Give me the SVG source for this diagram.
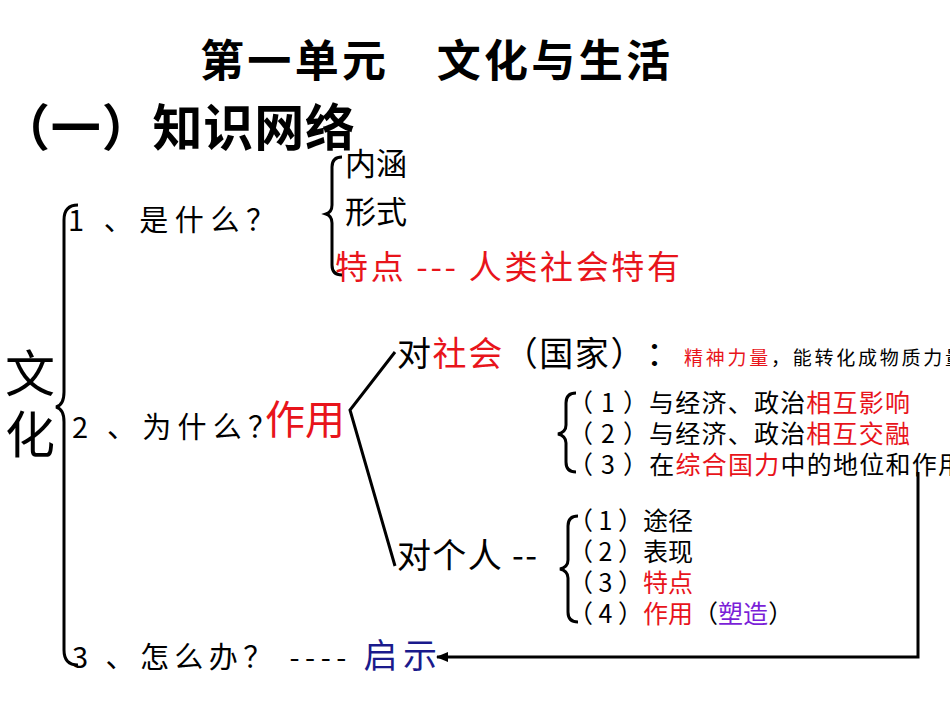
<svg xmlns="http://www.w3.org/2000/svg" width="950" height="713" viewBox="0 0 950 713">
<style>
text{font-family:"Noto Sans CJK SC","Liberation Sans",sans-serif;fill:#000;text-spacing-trim:space-all;white-space:pre}
.r{fill:#e8141b}.b{fill:#1a1a8c}.p{fill:#7b1fd8}
.br{fill:none;stroke:#000;stroke-width:3}
</style>
<defs><marker id="ah" markerWidth="12" markerHeight="10" refX="11" refY="5" orient="auto" markerUnits="userSpaceOnUse"><path d="M0,0 L12,5 L0,10 Z" fill="#000"/></marker></defs>
<rect width="950" height="713" fill="#fff"/>
<g id="title"><text x="200" y="77" font-size="44" font-weight="bold" textLength="470" lengthAdjust="spacing">第一单元　文化与生活</text>
<text x="0" y="146" font-size="50" font-weight="bold" textLength="355" lengthAdjust="spacing">（一）知识网络</text></g>
<g id="root"><text x="5" y="392" font-size="50">文</text><text x="5" y="453" font-size="50">化</text>
<path class="br" d="M78 205 Q64 205 64 220 V392 Q64 405 56 407 Q64 409 64 422 V650 Q64 665 78 665"/></g>
<g id="q1"><text x="68" y="231" font-size="29" textLength="207" lengthAdjust="spacing">1 、是什么？</text>
<path class="br" d="M342 157 Q332 157 332 167 V205 Q332 212 326 214 Q332 216 332 223 V265 Q332 275 342 275"/>
<text x="345" y="175" font-size="31">内涵</text><text x="345" y="223" font-size="31">形式</text>
<text x="335" y="279" font-size="33" class="r" textLength="345" lengthAdjust="spacing">特点 --- 人类社会特有</text></g>
<g id="q2"><text x="72" y="438" font-size="29" textLength="205" lengthAdjust="spacing">2 、为什么？</text><text x="265" y="434" font-size="40" class="r">作用</text></g>
<g id="society"><text x="397" y="366" font-size="34" textLength="283" lengthAdjust="spacing">对<tspan class="r">社会</tspan>（国家）：</text>
<text x="684" y="365" font-size="19" textLength="280" lengthAdjust="spacing"><tspan class="r">精神力量</tspan>，能转化成物质力量</text>
<path class="br" d="M576 393 Q566 393 566 403 V425 Q566 432 558 434 Q566 436 566 443 V462 Q566 472 576 472"/>
<text x="568" y="412" font-size="25" textLength="342" lengthAdjust="spacing">（ 1 ）与经济、政治<tspan class="r">相互影响</tspan></text>
<text x="568" y="443" font-size="25" textLength="342" lengthAdjust="spacing">（ 2 ）与经济、政治<tspan class="r">相互交融</tspan></text>
<text x="568" y="474" font-size="25" textLength="395" lengthAdjust="spacing">（ 3 ）在<tspan class="r">综合国力</tspan>中的地位和作用</text></g>
<g id="person"><text x="397" y="568" font-size="34" textLength="140" lengthAdjust="spacing">对个人 --</text>
<path class="br" d="M578 516 Q568 516 568 526 V560 Q568 567 560 569 Q568 571 568 578 V612 Q568 622 578 622"/>
<text x="568" y="530" font-size="25">（ 1 ）途径</text><text x="568" y="561" font-size="25">（ 2 ）表现</text>
<text x="568" y="592" font-size="25">（ 3 ）<tspan class="r">特点</tspan></text>
<text x="568" y="623" font-size="25">（ 4 ）<tspan class="r">作用</tspan>（<tspan class="p">塑造</tspan>）</text></g>
<g id="q3"><text x="72" y="668" font-size="29" textLength="365" lengthAdjust="spacing">3 、怎么办？ ---- <tspan class="b" font-size="34">启示</tspan></text></g>
<g id="connectors" fill="none" stroke="#000" stroke-width="3">
<path d="M395 352 L350 410 L395 566"/>
<path d="M918 472 V657 H437" marker-end="url(#ah)"/>
</g>
</svg>
